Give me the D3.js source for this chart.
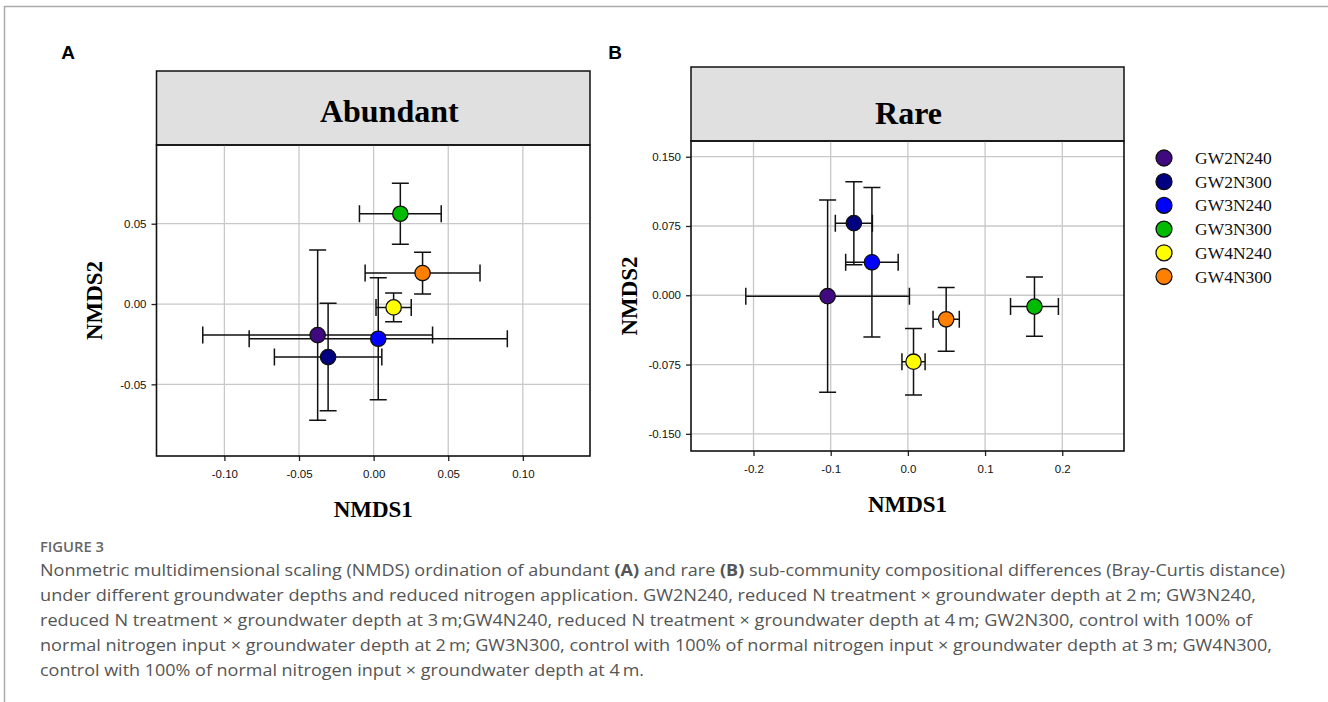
<!DOCTYPE html>
<html>
<head>
<meta charset="UTF-8">
<script src="https://cdn.jsdelivr.net/npm/d3@7"></script>
<style>
  body { margin: 0; background: white; }
  svg { display: block; }
</style>
</head>
<body>
<div id="chart"></div>
<script>
// groups and marker colours
const groups = ["GW2N240", "GW2N300", "GW3N240", "GW3N300", "GW4N240", "GW4N300"];
const groupColors = ["#3f0a80", "#000080", "#0000ff", "#00bb00", "#ffff00", "#ff8000"];

// panel A - abundant (mean NMDS1/NMDS2 with error)
const abundantX    = [-0.0375, -0.0305, 0.0031, 0.0179, 0.0134, 0.0328];
const abundantY    = [-0.0193, -0.0330, -0.0216, 0.0562, -0.0021, 0.0193];
const abundantXErr = [0.077, 0.036, 0.0865, 0.0274, 0.0118, 0.0385];
const abundantYErr = [0.053, 0.0335, 0.038, 0.019, 0.009, 0.013];
const abundantXTicks = [-0.10, -0.05, 0.00, 0.05, 0.10];
const abundantYTicks = [-0.05, 0.00, 0.05];

// panel B - rare
const rareX    = [-0.104, -0.070, -0.0466, 0.164, 0.0073, 0.0496];
const rareY    = [-0.001, 0.078, 0.0357, -0.0123, -0.0719, -0.026];
const rareXErr = [0.106, 0.024, 0.034, 0.031, 0.015, 0.017];
const rareYErr = [0.104, 0.045, 0.081, 0.032, 0.036, 0.0345];
const rareXTicks = [-0.2, -0.1, 0.0, 0.1, 0.2];
const rareYTicks = [-0.150, -0.075, 0.000, 0.075, 0.150];

const captionTitle = "FIGURE 3";
const captionLines = [
  [["Nonmetric multidimensional scaling (NMDS) ordination of abundant ", false], ["(A)", true], [" and rare ", false], ["(B)", true], [" sub-community compositional differences (Bray-Curtis distance)", false]],
  [["under different groundwater depths and reduced nitrogen application. GW2N240, reduced N treatment \u00d7 groundwater depth at 2\u2009m; GW3N240,", false]],
  [["reduced N treatment \u00d7 groundwater depth at 3\u2009m;GW4N240, reduced N treatment \u00d7 groundwater depth at 4\u2009m; GW2N300, control with 100% of", false]],
  [["normal nitrogen input \u00d7 groundwater depth at 2\u2009m; GW3N300, control with 100% of normal nitrogen input \u00d7 groundwater depth at 3\u2009m; GW4N300,", false]],
  [["control with 100% of normal nitrogen input \u00d7 groundwater depth at 4\u2009m.", false]]
];
const captionWidths = [1245, 1216, 1212, 1232, 604];

const W = 1328, H = 702;
const svg = d3.select("#chart").append("svg").attr("width", W).attr("height", H);

// outer frame (top + left)
svg.append("path").attr("d", `M4.5,${H} V6.5 H${W}`)
  .attr("fill", "none").attr("stroke", "#aaa").attr("stroke-width", 1.5);

function drawPanel(p) {
  const g = svg.append("g");
  const x = d3.scaleLinear().domain(p.xDomain).range([p.left, p.right]);
  const y = d3.scaleLinear().domain(p.yDomain).range([p.bottom, p.top]);

  // panel letter
  g.append("text").attr("x", p.letterX).attr("y", 59)
    .attr("text-anchor", "middle").attr("font-family", "Liberation Sans, Arial, sans-serif")
    .attr("font-weight", "bold").attr("font-size", 19).text(p.letter);

  // title strip
  g.append("rect").attr("x", p.left).attr("y", p.titleTop)
    .attr("width", p.right - p.left).attr("height", p.top - p.titleTop)
    .attr("fill", "#e0e0e0").attr("stroke", "#111").attr("stroke-width", 1.5);
  g.append("text").attr("x", (p.left + p.right) / 2 + p.titleDx).attr("y", p.titleY)
    .attr("text-anchor", "middle").attr("font-family", "Liberation Serif, Times New Roman, serif")
    .attr("font-weight", "bold").attr("font-size", 32).text(p.title);

  // grid
  g.selectAll(".vgrid").data(p.xTicks).enter().append("line")
    .attr("x1", d => x(d)).attr("x2", d => x(d)).attr("y1", p.top).attr("y2", p.bottom)
    .attr("stroke", "#c8c8c8").attr("stroke-width", 1.3);
  g.selectAll(".hgrid").data(p.yTicks).enter().append("line")
    .attr("x1", p.left).attr("x2", p.right).attr("y1", d => y(d)).attr("y2", d => y(d))
    .attr("stroke", "#c8c8c8").attr("stroke-width", 1.3);

  // axes
  const xAxis = g.append("g").attr("transform", `translate(0,${p.bottom})`)
    .call(d3.axisBottom(x).tickValues(p.xTicks).tickFormat(d3.format(p.xFmt)).tickSize(5).tickPadding(p.xPad));
  const yAxis = g.append("g").attr("transform", `translate(${p.left},0)`)
    .call(d3.axisLeft(y).tickValues(p.yTicks).tickFormat(d3.format(p.yFmt)).tickSize(5).tickPadding(5));
  [xAxis, yAxis].forEach(a => {
    a.select(".domain").remove();
    a.selectAll("line").attr("stroke", "#222").attr("stroke-width", 1.3);
    a.selectAll("text").attr("font-family", "Liberation Sans, Arial, sans-serif")
      .attr("font-size", 11.5).attr("fill", "#111");
  });
  xAxis.selectAll("text").text(d => d3.format(p.xFmt)(d).replace("\u2212", "-"));
  yAxis.selectAll("text").text(d => d3.format(p.yFmt)(d).replace("\u2212", "-"));

  // frame
  g.append("rect").attr("x", p.left).attr("y", p.top)
    .attr("width", p.right - p.left).attr("height", p.bottom - p.top)
    .attr("fill", "none").attr("stroke", "#111").attr("stroke-width", 1.6);

  // axis titles
  g.append("text").attr("x", (p.left + p.right) / 2).attr("y", p.xLabelY)
    .attr("text-anchor", "middle").attr("font-family", "Liberation Serif, Times New Roman, serif")
    .attr("font-weight", "bold").attr("font-size", 23).text("NMDS1");
  g.append("text").attr("transform", `translate(${p.yLabelX},${(p.top + p.bottom) / 2}) rotate(-90)`)
    .attr("text-anchor", "middle").attr("font-family", "Liberation Serif, Times New Roman, serif")
    .attr("font-weight", "bold").attr("font-size", 23).text("NMDS2");

  // error bars + points
  const pts = groups.map((k, i) => ({ k, i, x: p.xs[i], y: p.ys[i], ex: p.xErr[i], ey: p.yErr[i] }));
  const cap = 8.5;
  const eb = g.append("g").attr("stroke", "#111").attr("stroke-width", 1.5).attr("fill", "none");
  pts.forEach(d => {
    const cx = x(d.x), cy = y(d.y);
    const x0 = x(d.x - d.ex), x1 = x(d.x + d.ex), y0 = y(d.y - d.ey), y1 = y(d.y + d.ey);
    eb.append("path").attr("d",
      `M${x0},${cy}H${x1}M${x0},${cy - cap}V${cy + cap}M${x1},${cy - cap}V${cy + cap}` +
      `M${cx},${y0}V${y1}M${cx - cap},${y0}H${cx + cap}M${cx - cap},${y1}H${cx + cap}`);
  });
  g.selectAll(".pt").data(pts).enter().append("circle")
    .attr("cx", d => x(d.x)).attr("cy", d => y(d.y)).attr("r", 7.7)
    .attr("fill", d => groupColors[d.i]).attr("stroke", "#111").attr("stroke-width", 1.3);
}

drawPanel({
  letter: "A", letterX: 68, title: "Abundant", titleDx: 16, titleY: 122,
  left: 156.5, right: 590, top: 145, bottom: 456, titleTop: 71,
  xDomain: [-0.1455, 0.145], yDomain: [-0.0946, 0.099],
  xTicks: abundantXTicks, yTicks: abundantYTicks, xFmt: ".2f", yFmt: ".2f", xPad: 9,
  xLabelY: 517, yLabelX: 102,
  xs: abundantX, ys: abundantY, xErr: abundantXErr, yErr: abundantYErr
});

drawPanel({
  letter: "B", letterX: 615, title: "Rare", titleDx: 1, titleY: 124,
  left: 691, right: 1124, top: 141, bottom: 451, titleTop: 67,
  xDomain: [-0.281, 0.280], yDomain: [-0.1686, 0.167],
  xTicks: rareXTicks, yTicks: rareYTicks, xFmt: ".1f", yFmt: ".3f", xPad: 9,
  xLabelY: 512, yLabelX: 637,
  xs: rareX, ys: rareY, xErr: rareXErr, yErr: rareYErr
});

// legend
const legend = svg.append("g").attr("transform", "translate(1164,158)");
groups.forEach((k, i) => {
  const row = legend.append("g").attr("transform", `translate(0,${i * 23.7})`);
  row.append("circle").attr("r", 8).attr("fill", groupColors[i])
    .attr("stroke", "#111").attr("stroke-width", 1.3);
  row.append("text").attr("x", 31).attr("y", 6)
    .attr("font-family", "Liberation Serif, Times New Roman, serif")
    .attr("font-size", 17.5).attr("fill", "#111").text(k);
});

// caption
svg.append("text").attr("x", 40).attr("y", 552)
  .attr("font-family", "Open Sans, Noto Sans, sans-serif").attr("font-size", 13.5)
  .attr("fill", "#666").attr("font-weight", 600)
  .attr("textLength", 64).attr("lengthAdjust", "spacingAndGlyphs").text(captionTitle);

captionLines.forEach((segs, i) => {
  const t = svg.append("text").attr("x", 40).attr("y", 576 + i * 25)
    .attr("font-family", "Open Sans, Noto Sans, sans-serif").attr("font-size", 16.5)
    .attr("fill", "#555")
    .attr("textLength", captionWidths[i]).attr("lengthAdjust", "spacingAndGlyphs");
  segs.forEach(([s, b]) => {
    t.append("tspan").attr("font-weight", b ? "bold" : null).text(s);
  });
});
</script>
</body>
</html>
